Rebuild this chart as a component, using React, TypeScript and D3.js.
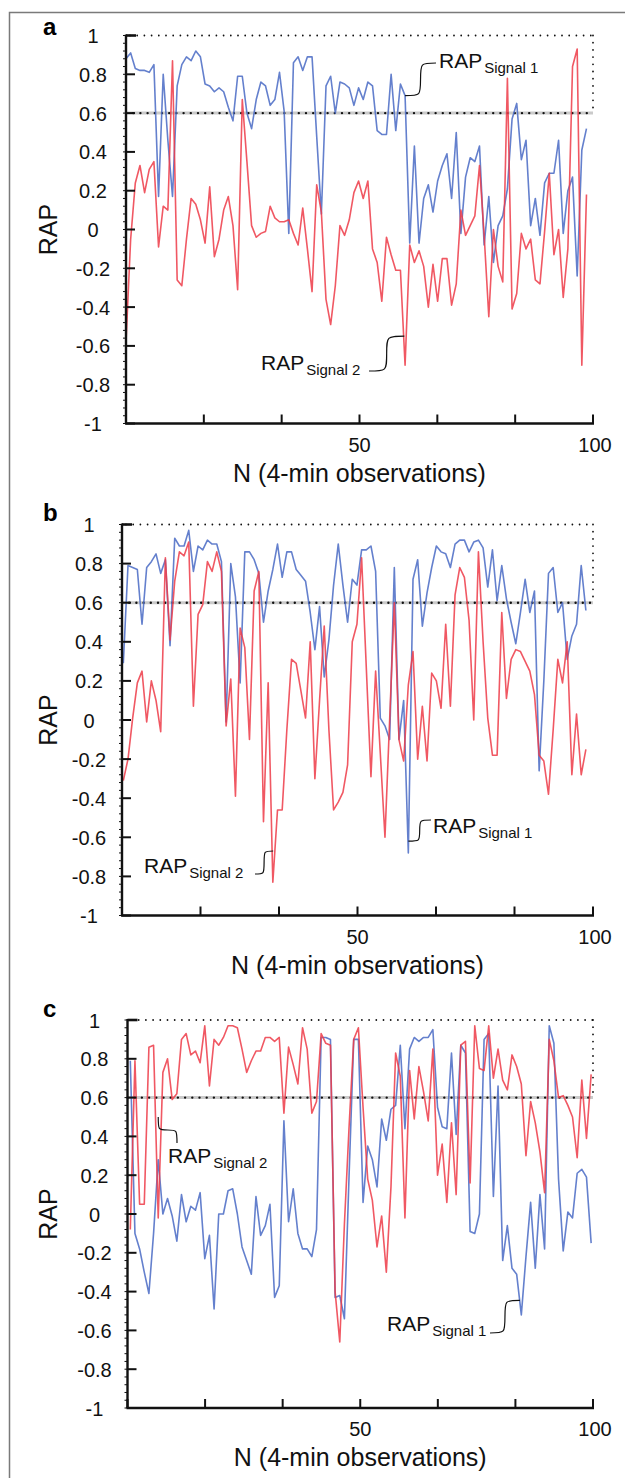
import React from "react";
import * as d3 from "d3";

const W = 625;
const H = 1478;

// RAP per 4-min observation, panel a
const aSignal1 = [
  0.88, 0.91, 0.83, 0.82, 0.82, 0.81, 0.85, 0.17, 0.8, 0.46,
  0.17, 0.74, 0.85, 0.89, 0.87, 0.92, 0.89, 0.75, 0.74, 0.71,
  0.73, 0.71, 0.63, 0.56, 0.79, 0.79, 0.6, 0.52, 0.67, 0.76,
  0.74, 0.64, 0.67, 0.81, 0.61, -0.02, 0.86, 0.89, 0.82, 0.89,
  0.89, 0.48, 0.08, 0.74, 0.79, 0.6, 0.76, 0.75, 0.73, 0.64,
  0.73, 0.67, 0.76, 0.74, 0.51, 0.49, 0.49, 0.8, 0.51, 0.75,
  0.69, -0.07, 0.43, -0.07, 0.16, 0.23, 0.09, 0.25, 0.33, 0.39,
  0.16, 0.5, -0.02, 0.27, 0.37, 0.35, 0.43, -0.08, 0.17, -0.17,
  0.02, 0.07, 0.21, 0.57, 0.65, 0.36, 0.46, 0.02, 0.16, -0.03,
  0.24, 0.29, 0.29, 0.46, -0.02, 0.2, 0.27, -0.24, 0.41, 0.52,
];
const aSignal2 = [
  -0.58, -0.05, 0.24, 0.33, 0.19, 0.31, 0.35, -0.09, 0.12, 0.1,
  0.87, -0.26, -0.29, -0.05, 0.16, 0.13, 0.05, -0.07, 0.22, -0.14,
  -0.05, 0.1, 0.17, 0.02, -0.31, 0.67, 0.35, 0.02, -0.04, -0.02,
  -0.01, 0.12, 0.06, 0.04, 0.04, 0.05, -0.02, -0.08, 0.11, -0.1,
  -0.32, 0.23, 0.09, -0.36, -0.49, -0.29, 0.02, -0.03, 0.05, 0.19,
  0.25, 0.16, 0.25, -0.1, -0.17, -0.37, -0.04, -0.13, -0.21, -0.21,
  -0.7, -0.08, -0.17, -0.11, -0.19, -0.4, -0.18, -0.37, -0.15, -0.15,
  -0.39, -0.28, 0.1, -0.03, 0.02, 0.07, 0.33, -0.03, -0.45, 0.0,
  -0.19, -0.27, 0.78, -0.41, -0.33, -0.02, -0.1, -0.05, -0.26, -0.28,
  -0.01, 0.29, -0.13, 0.0, -0.35, -0.1, 0.84, 0.93, -0.7, 0.18,
];

// panel b
const bSignal1 = [
  0.29, 0.79, 0.78, 0.77, 0.49, 0.78, 0.81, 0.85, 0.75, 0.82,
  0.38, 0.93, 0.89, 0.89, 0.97, 0.76, 0.89, 0.87, 0.92, 0.9,
  0.9, 0.81, -0.01, 0.8, 0.63, 0.19, 0.86, 0.86, 0.82, 0.75,
  0.5, 0.66, 0.77, 0.9, 0.73, 0.86, 0.86, 0.77, 0.74, 0.71,
  0.55, 0.36, 0.58, 0.22, 0.41, 0.69, 0.9, 0.69, 0.5, 0.72,
  0.69, 0.87, 0.87, 0.89, 0.76, 0.01, -0.03, -0.1, 0.78, -0.1,
  0.1, -0.68, 0.72, 0.82, 0.48, 0.65, 0.78, 0.89, 0.86, 0.85,
  0.78, 0.9, 0.92, 0.92, 0.86, 0.91, 0.92, 0.88, 0.68, 0.87,
  0.61, 0.79, 0.62, 0.5, 0.39, 0.55, 0.72, 0.55, 0.66, -0.26,
  0.2, 0.75, 0.78, 0.55, 0.6, 0.31, 0.43, 0.49, 0.79, 0.56,
];
const bSignal2 = [
  -0.31, -0.2, 0.01, 0.19, 0.25, -0.01, 0.2, 0.1, -0.06, 0.83,
  0.41, 0.71, 0.86, 0.84, 0.91, 0.07, 0.54, 0.59, 0.81, 0.76,
  0.86, 0.76, -0.03, 0.21, -0.39, 0.47, 0.37, -0.1, 0.66, 0.76,
  -0.52, 0.19, -0.83, -0.46, -0.46, -0.05, 0.31, 0.29, 0.15, 0.01,
  0.4, -0.3, 0.1, 0.48, -0.05, -0.46, -0.42, -0.37, -0.23, 0.4,
  0.49, 0.83, 0.27, -0.29, 0.25, -0.17, -0.6, 0.0, 0.6, -0.1,
  -0.21, 0.18, 0.35, -0.2, 0.07, -0.21, 0.24, 0.2, 0.06, 0.49,
  0.07, 0.64, 0.78, 0.73, 0.51, 0.0, 0.86, 0.4, 0.01, -0.18,
  -0.18, 0.55, 0.11, 0.31, 0.36, 0.35, 0.3, 0.25, 0.13, -0.18,
  -0.21, -0.38, -0.05, 0.31, 0.19, 0.4, -0.28, 0.03, -0.28, -0.15,
];

// panel c
const cSignal1 = [
  0.79, -0.1, -0.18, -0.3, -0.41, -0.1, 0.28, 0.0, 0.08, -0.01,
  -0.14, 0.1, -0.04, 0.04, 0.02, 0.11, -0.23, -0.11, -0.49, 0.0,
  0.0, 0.12, 0.13, 0.0, -0.17, -0.24, -0.31, 0.09, -0.11, -0.06,
  0.05, -0.43, -0.37, 0.48, -0.04, 0.13, -0.1, -0.18, -0.18, -0.22,
  -0.08, 0.91, 0.91, 0.9, -0.43, -0.42, -0.54, 0.2, 0.9, 0.9,
  0.06, 0.35, 0.28, 0.14, 0.49, 0.38, 0.54, 0.56, 0.87, 0.44,
  0.85, 0.91, 0.89, 0.91, 0.91, 0.95, 0.55, 0.45, 0.44, 0.83,
  0.41, 0.87, 0.83, -0.09, -0.1, 0.0, 0.9, 0.93, 0.09, 0.66,
  -0.24, -0.06, -0.28, -0.31, -0.52, -0.22, 0.06, -0.28, 0.1, -0.18,
  0.97, 0.88, 0.18, -0.19, 0.01, -0.02, 0.21, 0.23, 0.19, -0.15,
];
const cSignal2 = [
  -0.08, 0.79, 0.05, 0.05, 0.86, 0.87, -0.02, 0.73, 0.8, 0.59,
  0.62, 0.9, 0.93, 0.82, 0.84, 0.78, 0.97, 0.66, 0.9, 0.87,
  0.91, 0.97, 0.97, 0.96, 0.85, 0.73, 0.79, 0.84, 0.84, 0.91,
  0.91, 0.89, 0.91, 0.52, 0.86, 0.77, 0.67, 0.96, 0.85, 0.52,
  0.58, 0.93, 0.88, 0.87, -0.4, -0.66, -0.05, 0.45, 0.9, 0.96,
  0.55, 0.18, 0.07, -0.17, -0.01, -0.3, 0.14, 0.83, 0.71, -0.02,
  0.74, 0.49, 0.76, 0.63, 0.48, 0.85, 0.2, 0.36, 0.06, 0.47,
  0.1, 0.87, 0.89, 0.16, 0.97, 0.75, 0.74, 0.97, 0.7, 0.85,
  0.69, 0.64, 0.82, 0.76, 0.67, 0.3, 0.58, 0.47, 0.32, 0.11,
  0.9, 0.79, 0.6, 0.61, 0.56, 0.5, 0.29, 0.69, 0.39, 0.72,
];

const yTickValues = [1, 0.8, 0.6, 0.4, 0.2, 0, -0.2, -0.4, -0.6, -0.8, -1];
const yTickLabels = ["1", "0.8", "0.6", "0.4", "0.2", "0", "-0.2", "-0.4", "-0.6", "-0.8", "-1"];
const xLabelValues = [50, 100];
const xLabelTexts = ["50", "100"];
const xTitle = "N (4-min observations)";
const yTitle = "RAP";
const threshold = 0.6;

const BLUE = "#4f6ec6";
const RED = "#ee3d49";
const FONT = "'Liberation Sans', Arial, Helvetica, sans-serif";

type Note = {
  sub: string;
  lx: number;
  ly: number;
  ax: number;
  ay: number;
  obs: number;
  val: number;
  dir: "h" | "v";
};

type PanelDef = {
  letter: string;
  letterY: number;
  left: number;
  right: number;
  top: number;
  bottom: number;
  s1: number[];
  s2: number[];
  obs0: number;
  step: number;
  notes: Note[];
};

const panels: PanelDef[] = [
  {
    letter: "a",
    letterY: 35,
    left: 126,
    right: 593,
    top: 35.5,
    bottom: 423.5,
    s1: aSignal1,
    s2: aSignal2,
    obs0: 0,
    step: 0.996,
    notes: [
      { sub: "Signal 1", lx: 439, ly: 68, ax: 436, ay: 63, obs: 59.76, val: 0.69, dir: "h" },
      { sub: "Signal 2", lx: 261, ly: 370, ax: 369, ay: 371, obs: 59.6, val: -0.55, dir: "h" },
    ],
  },
  {
    letter: "b",
    letterY: 521,
    left: 122,
    right: 593,
    top: 524.5,
    bottom: 915.5,
    s1: bSignal1,
    s2: bSignal2,
    obs0: 0.28,
    step: 0.992,
    notes: [
      { sub: "Signal 1", lx: 433, ly: 833, ax: 431, ay: 820, obs: 60.8, val: -0.62, dir: "h" },
      { sub: "Signal 2", lx: 144, ly: 873, ax: 255, ay: 874, obs: 32.1, val: -0.67, dir: "h" },
    ],
  },
  {
    letter: "c",
    letterY: 1017,
    left: 127.5,
    right: 593,
    top: 1020,
    bottom: 1408,
    s1: cSignal1,
    s2: cSignal2,
    obs0: 0.6,
    step: 1.0,
    notes: [
      { sub: "Signal 1", lx: 387, ly: 1331, ax: 490, ay: 1333, obs: 84.3, val: -0.445, dir: "h" },
      { sub: "Signal 2", lx: 168, ly: 1163, ax: 177, ay: 1143, obs: 6.6, val: 0.5, dir: "v" },
    ],
  },
];

// smooth S-shaped leader between two points
function leader(x0: number, y0: number, x1: number, y1: number, dir: "h" | "v") {
  const xm = (x0 + x1) / 2;
  const ym = (y0 + y1) / 2;
  if (dir === "h") {
    return `M${x0},${y0} C${xm},${y0} ${xm},${y0} ${xm},${ym} S${xm},${y1} ${x1},${y1}`;
  }
  return `M${x0},${y0} C${x0},${ym} ${x0},${ym} ${xm},${ym} S${x1},${ym} ${x1},${y1}`;
}

function Panel({ p }: { p: PanelDef }) {
  const x = d3.scaleLinear().domain([0, 100]).range([p.left, p.right]);
  const y = d3.scaleLinear().domain([-1, 1]).range([p.bottom, p.top]);
  const line = d3
    .line<number>()
    .x((_, i) => x(p.obs0 + i * p.step))
    .y((v) => y(v));
  const xTicks = d3.range(7).map((i) => (i * 100) / 6);
  const minorY = d3.range(0, 51).map((i) => -1 + i * 0.04);
  const x0 = x(0);
  const x100 = x(100);

  return (
    <g>
      <text x={43} y={p.letterY} fontSize={24} fontWeight="bold" fontFamily={FONT}>
        {p.letter}
      </text>

      {/* reference band between 0.6 and 1 */}
      <line x1={x0} x2={x100} y1={y(threshold)} y2={y(threshold)} stroke="#cacaca" strokeWidth={3} />
      <line
        x1={x0}
        x2={x100}
        y1={y(threshold)}
        y2={y(threshold)}
        stroke="#111"
        strokeWidth={2.4}
        strokeLinecap="round"
        strokeDasharray="0 7.2"
      />
      <line
        x1={x0 + 4}
        x2={x100}
        y1={y(1)}
        y2={y(1)}
        stroke="#111"
        strokeWidth={1.8}
        strokeLinecap="round"
        strokeDasharray="0 7.2"
      />
      <line
        x1={x100}
        x2={x100}
        y1={y(1)}
        y2={y(threshold)}
        stroke="#111"
        strokeWidth={1.8}
        strokeLinecap="round"
        strokeDasharray="0 7.2"
      />

      {/* series */}
      <path
        d={line(p.s1) || ""}
        fill="none"
        stroke={BLUE}
        strokeWidth={1.6}
        strokeOpacity={0.88}
        strokeLinejoin="round"
      />
      <path
        d={line(p.s2) || ""}
        fill="none"
        stroke={RED}
        strokeWidth={1.6}
        strokeOpacity={0.86}
        strokeLinejoin="round"
      />

      {/* axes */}
      {minorY.map((v, i) => (
        <line key={`m${i}`} x1={x0 - 3} x2={x0} y1={y(v)} y2={y(v)} stroke="#111" strokeWidth={1} />
      ))}
      <line x1={x0} x2={x0} y1={y(1) - 1} y2={y(-1)} stroke="#111" strokeWidth={2.4} />
      <line x1={x0 - 1} x2={x100 + 1} y1={y(-1)} y2={y(-1)} stroke="#111" strokeWidth={2.4} />
      {yTickValues.map((v) => (
        <line
          key={`yt${v}`}
          x1={x0}
          x2={x0 + (v === 1 ? 10 : 9)}
          y1={y(v)}
          y2={y(v)}
          stroke="#111"
          strokeWidth={v === 1 ? 2.6 : 2}
        />
      ))}
      {xTicks.map((t, i) => (
        <line key={`xt${i}`} x1={x(t)} x2={x(t)} y1={y(-1)} y2={y(-1) - 9} stroke="#111" strokeWidth={2} />
      ))}
      {yTickValues.map((v, i) => (
        <text
          key={`yl${v}`}
          x={x0 - 33}
          y={y(v) + 7.5}
          fontSize={20}
          textAnchor="middle"
          fontFamily={FONT}
          fill="#111"
        >
          {yTickLabels[i]}
        </text>
      ))}
      {xLabelValues.map((v, i) => (
        <text
          key={`xl${v}`}
          x={x(v) + (v === 100 ? 2 : 0)}
          y={y(-1) + 28}
          fontSize={20}
          textAnchor="middle"
          fontFamily={FONT}
          fill="#111"
        >
          {xLabelTexts[i]}
        </text>
      ))}
      <text
        x={(x0 + x100) / 2}
        y={y(-1) + 58}
        fontSize={25}
        textAnchor="middle"
        fontFamily={FONT}
        fill="#111"
      >
        {xTitle}
      </text>
      <text
        transform={`translate(57, ${y(0)}) rotate(-90)`}
        fontSize={25}
        textAnchor="middle"
        fontFamily={FONT}
        fill="#111"
      >
        {yTitle}
      </text>

      {/* series labels */}
      {p.notes.map((n, i) => {
        const px = x(n.obs);
        const py = y(n.val);
        return (
          <g key={`n${i}`}>
            <path d={leader(px, py, n.ax, n.ay, n.dir)} fill="none" stroke="#111" strokeWidth={1.2} />
            <text x={n.lx} y={n.ly} fontSize={21} fontFamily={FONT} fill="#111">
              RAP
              <tspan fontSize={15} dx={2} dy={5}>
                {n.sub}
              </tspan>
            </text>
          </g>
        );
      })}
    </g>
  );
}

export default function App() {
  return (
    <div style={{ position: "absolute", left: 0, top: 0, width: W, height: H, overflow: "hidden", background: "#fff" }}>
      <svg width={W} height={H} viewBox={`0 0 ${W} ${H}`} style={{ display: "block" }}>
        <rect width={W} height={H} fill="#fff" />
        <path d={`M9.5,${H} V12.5 H${W}`} fill="none" stroke="#7a7a7a" strokeWidth={1.5} />
        {panels.map((p) => (
          <Panel key={p.letter} p={p} />
        ))}
      </svg>
    </div>
  );
}
